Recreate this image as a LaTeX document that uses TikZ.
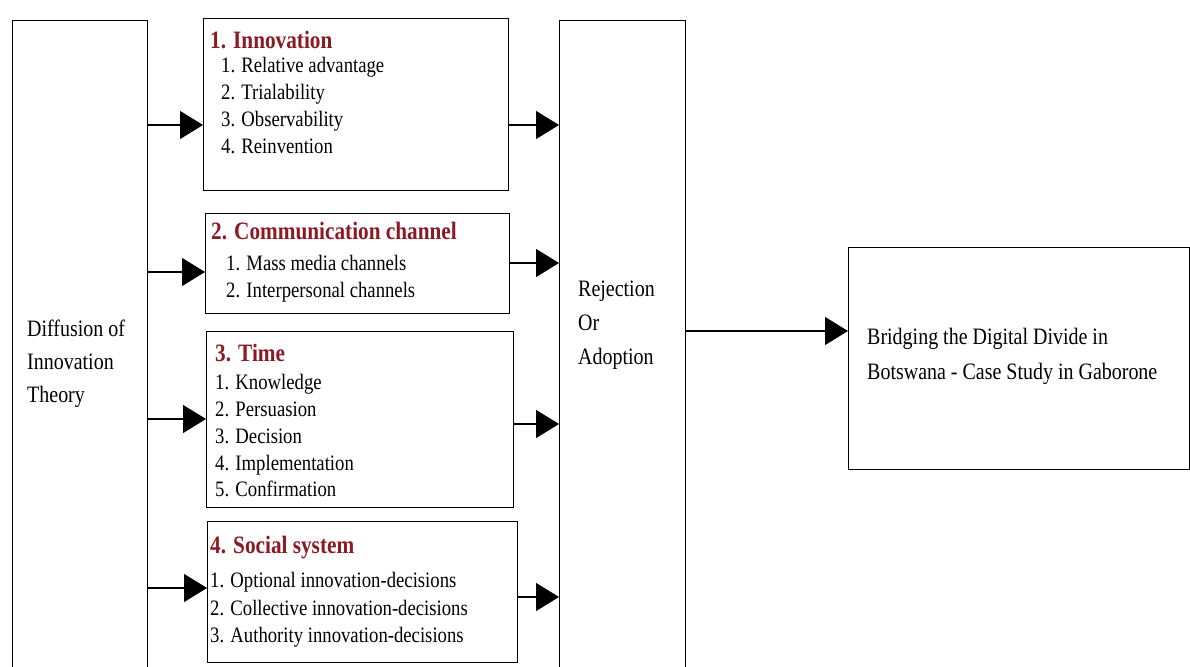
\documentclass[tikz,border=0pt]{standalone}
\usepackage{fontspec}
\setmainfont{Liberation Serif}[FakeStretch=0.85]
\usetikzlibrary{arrows.meta}
\definecolor{titlered}{RGB}{139,26,36}
\tikzset{
  box/.style={draw, line width=1.3pt, anchor=north west, inner sep=0pt},
  arr/.style={line width=1.3pt, -{Triangle[length=23pt,width=28pt]}},
  ttl/.style={anchor=base west, inner sep=0pt, text=titlered, font=\fontsize{25}{30}\selectfont\bfseries},
  itm/.style={anchor=base west, inner sep=0pt, font=\fontsize{22}{26}\selectfont},
  lbl/.style={anchor=base west, inner sep=0pt, font=\fontsize{23.5}{28}\selectfont},
}
\begin{document}
\begin{tikzpicture}[x=1pt,y=-1pt]
\useasboundingbox (0,0) rectangle (1190,666);
\clip (0,0) rectangle (1190,666);
\fill[white] (0,0) rectangle (1190,666);

% boxes
\node[box, minimum width=135pt, minimum height=700pt] (diff) at (12,20) {};
\node[box, minimum width=305pt, minimum height=172pt] (b1) at (203,18) {};
\node[box, minimum width=304pt, minimum height=100pt] (b2) at (205,213) {};
\node[box, minimum width=307pt, minimum height=176pt] (b3) at (206,331) {};
\node[box, minimum width=310pt, minimum height=141pt] (b4) at (207,521) {};
\node[box, minimum width=126pt, minimum height=700pt] (rej) at (559,20) {};
\node[box, minimum width=341pt, minimum height=222pt] (out) at (848,247) {};

% texts
\node[lbl] (d1) at (27,336) {Diffusion of};
\node[lbl] (d2) at (27,369) {Innovation};
\node[lbl] (d3) at (27,402) {Theory};

\node[ttl] (t1) at (210,49) {1. Innovation};
\node[itm] (i11) at (221,73) {1. Relative advantage};
\node[itm] (i12) at (221,100) {2. Trialability};
\node[itm] (i13) at (221,127) {3. Observability};
\node[itm] (i14) at (221,153) {4. Reinvention};

\node[ttl] (t2) at (211,239) {2. Communication channel};
\node[itm] (i21) at (226,270) {1. Mass media channels};
\node[itm] (i22) at (226,297) {2. Interpersonal channels};

\node[ttl] (t3) at (215,361) {3. Time};
\node[itm] (i31) at (215,389) {1. Knowledge};
\node[itm] (i32) at (215,416) {2. Persuasion};
\node[itm] (i33) at (215,443) {3. Decision};
\node[itm] (i34) at (215,470) {4. Implementation};
\node[itm] (i35) at (215,496) {5. Confirmation};

\node[ttl] (t4) at (210,553) {4. Social system};
\node[itm] (i41) at (210,587) {1. Optional innovation-decisions};
\node[itm] (i42) at (210,615) {2. Collective innovation-decisions};
\node[itm] (i43) at (210,642) {3. Authority innovation-decisions};

\node[lbl] (r1) at (578,296) {Rejection};
\node[lbl] (r2) at (578,330) {Or};
\node[lbl] (r3) at (578,364) {Adoption};

\node[lbl] (o1) at (867,344) {Bridging the Digital Divide in};
\node[lbl] (o2) at (867,379) {Botswana - Case Study in Gaborone};

% arrow levels
\coordinate (y1) at (0,125);
\coordinate (y2) at (0,272);
\coordinate (y3) at (0,419);
\coordinate (y4) at (0,588);
\coordinate (z1) at (0,125);
\coordinate (z2) at (0,263);
\coordinate (z3) at (0,424);
\coordinate (z4) at (0,597);
\coordinate (zo) at (0,331);

\draw[arr] (diff.east |- y1) -- (b1.west |- y1);
\draw[arr] (diff.east |- y2) -- (b2.west |- y2);
\draw[arr] (diff.east |- y3) -- (b3.west |- y3);
\draw[arr] (diff.east |- y4) -- (b4.west |- y4);

\draw[arr] (b1.east |- z1) -- (rej.west |- z1);
\draw[arr] (b2.east |- z2) -- (rej.west |- z2);
\draw[arr] (b3.east |- z3) -- (rej.west |- z3);
\draw[arr] (b4.east |- z4) -- (rej.west |- z4);

\draw[arr] (rej.east |- zo) -- (out.west |- zo);
\end{tikzpicture}
\end{document}
